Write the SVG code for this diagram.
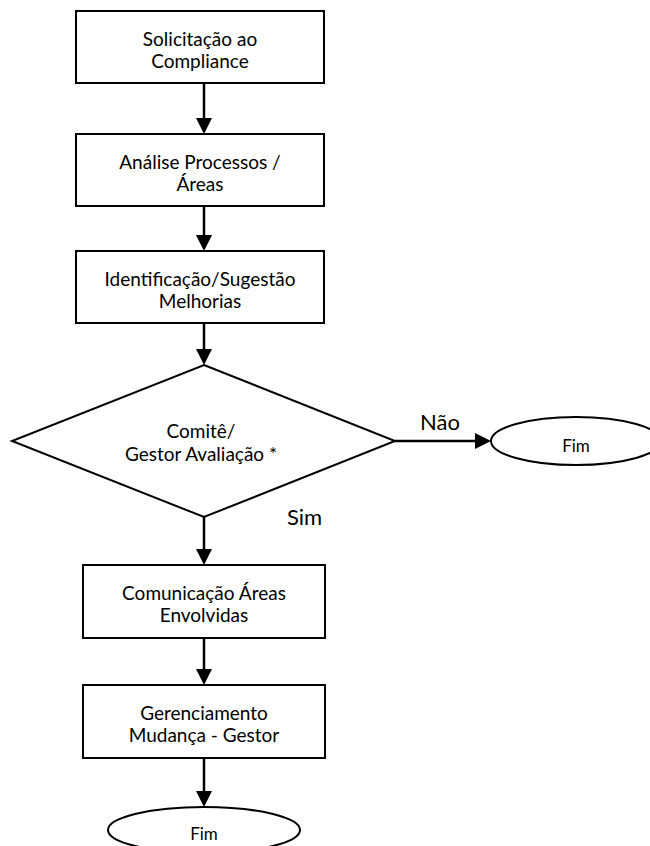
<svg xmlns="http://www.w3.org/2000/svg" width="650" height="846" viewBox="0 0 650 846">
<style>
.box{fill:#fff;stroke:#000;stroke-width:2}
.t{font-family:Lato,"Liberation Sans",sans-serif;font-size:19px;fill:#000;text-anchor:middle}
.lbl{font-family:Lato,"Liberation Sans",sans-serif;font-size:22px;fill:#000}
.c{stroke:#000;stroke-width:2.5;fill:none;marker-end:url(#ah)}
</style>
<defs>
<marker id="ah" markerUnits="userSpaceOnUse" markerWidth="16" markerHeight="16" refX="6" refY="8" orient="auto">
<path d="M0,0 L16,8 L0,16 z" fill="#000"/>
</marker>
</defs>
<rect width="650" height="846" fill="#fff"/>
<g id="connectors">
<line class="c" x1="204" y1="83" x2="204" y2="124"/>
<line class="c" x1="204" y1="206" x2="204" y2="241"/>
<line class="c" x1="204" y1="323" x2="204" y2="355"/>
<line class="c" x1="395" y1="441" x2="481" y2="441"/>
<line class="c" x1="204" y1="517" x2="204" y2="555"/>
<line class="c" x1="204" y1="638" x2="204" y2="675"/>
<line class="c" x1="204" y1="758" x2="204" y2="797"/>
<text class="lbl" x="420" y="430">Não</text>
<text class="lbl" x="287" y="525">Sim</text>
</g>
<g id="n1">
<rect class="box" x="76" y="11" width="248" height="72"/>
<text class="t" x="200" y="46">Solicitação ao</text>
<text class="t" x="200" y="68">Compliance</text>
</g>
<g id="n2">
<rect class="box" x="76" y="134" width="248" height="72"/>
<text class="t" x="200" y="169">Análise Processos /</text>
<text class="t" x="200" y="191">Áreas</text>
</g>
<g id="n3">
<rect class="box" x="76" y="251" width="248" height="72"/>
<text class="t" x="200" y="286">Identificação/Sugestão</text>
<text class="t" x="200" y="308">Melhorias</text>
</g>
<g id="n4">
<polygon class="box" points="204,365 395,441 204,517 12,441"/>
<text class="t" x="201" y="438">Comitê/</text>
<text class="t" x="201" y="461">Gestor Avaliação *</text>
</g>
<g id="n5">
<ellipse class="box" cx="576" cy="441" rx="85" ry="24"/>
<text class="t" x="576" y="452" style="font-size:17px">Fim</text>
</g>
<g id="n6">
<rect class="box" x="83" y="565" width="242" height="73"/>
<text class="t" x="204" y="600">Comunicação Áreas</text>
<text class="t" x="204" y="622">Envolvidas</text>
</g>
<g id="n7">
<rect class="box" x="83" y="685" width="242" height="73"/>
<text class="t" x="204" y="720">Gerenciamento</text>
<text class="t" x="204" y="742">Mudança - Gestor</text>
</g>
<g id="n8">
<ellipse class="box" cx="204" cy="830" rx="96" ry="23"/>
<text class="t" x="204" y="840" style="font-size:17px">Fim</text>
</g>
</svg>
